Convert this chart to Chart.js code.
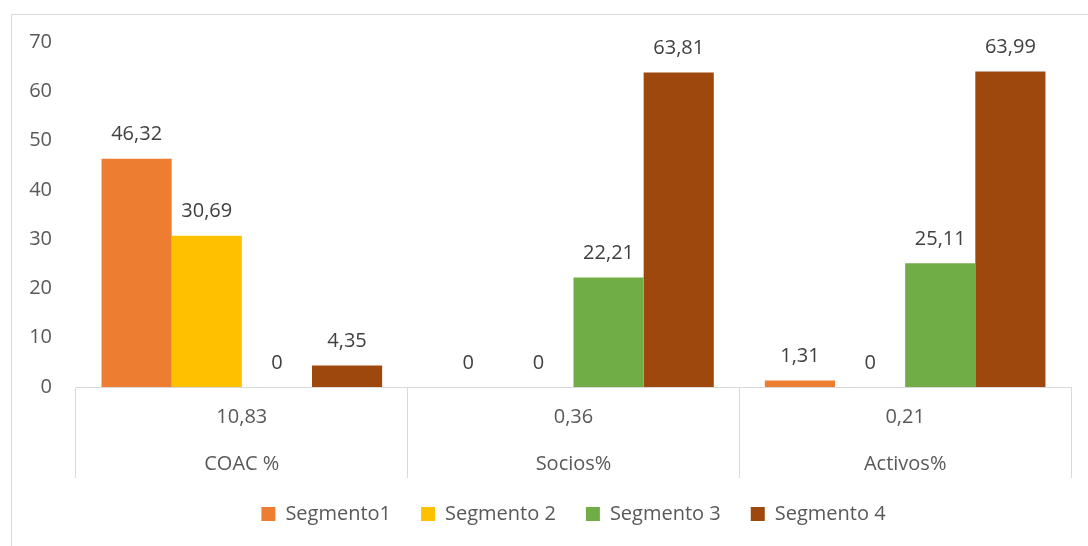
<!DOCTYPE html>
<html>
<head>
<meta charset="utf-8">
<script src="https://cdn.jsdelivr.net/npm/chart.js@4/dist/chart.umd.min.js"></script>
<style>
	body { margin: 0; background: #fff; overflow: hidden; }
	#frame { position: absolute; left: 11px; top: 14px; width: 1100px; height: 560px; border: 1px solid #d9d9d9; }
	#wrap { position: absolute; left: 0; top: 0; width: 1088px; height: 546px; }
</style>
</head>
<body>
<div id="frame"></div>
<div id="wrap"><canvas id="chart"></canvas></div>
<script>
// categories and their total row
var categories = ["COAC %", "Socios%", "Activos%"];
var totals     = [10.83, 0.36, 0.21];

// series
var segmento1 = [46.32, 0, 1.31];
var segmento2 = [30.69, 0, 0];
var segmento3 = [0, 22.21, 25.11];
var segmento4 = [4.35, 63.81, 63.99];

var yTicks = [0, 10, 20, 30, 40, 50, 60, 70];

var fmt = function (v) { return String(v).replace('.', ','); };

var font = "'Open Sans', 'DejaVu Sans', sans-serif";

// value labels above every bar
var valueLabels = {
	id: 'valueLabels',
	afterDatasetsDraw: function (chart)
	{
		var ctx = chart.ctx;
		ctx.save();
		ctx.font = '20px ' + font;
		ctx.fillStyle = '#404040';
		ctx.textAlign = 'center';
		ctx.textBaseline = 'middle';
		chart.data.datasets.forEach(function (ds, i)
		{
			chart.getDatasetMeta(i).data.forEach(function (bar, j)
			{
				ctx.fillText(fmt(ds.data[j]), bar.x, bar.y - 24);
			});
		});
		ctx.restore();
	}
};

new Chart(document.getElementById('chart'), {
	type: 'bar',
	data: {
		labels: categories.map(function (c, i) { return [fmt(totals[i]), c]; }),
		datasets: [
			{ label: 'Segmento1',  data: segmento1, backgroundColor: '#ED7D31' },
			{ label: 'Segmento 2', data: segmento2, backgroundColor: '#FFC000' },
			{ label: 'Segmento 3', data: segmento3, backgroundColor: '#70AD47' },
			{ label: 'Segmento 4', data: segmento4, backgroundColor: '#9E480E' }
		]
	},
	options: {
		responsive: true,
		maintainAspectRatio: false,
		animation: false,
		layout: { padding: { left: 0, right: 17, top: 42, bottom: 12 } },
		datasets: { bar: { barPercentage: 1, categoryPercentage: 0.846 } },
		plugins: {
			tooltip: { enabled: false },
			legend: {
				position: 'bottom',
				fullSize: false,
				labels: {
					boxWidth: 14,
					boxHeight: 14,
					padding: 30,
					color: '#595959',
					font: { family: font, size: 20 }
				}
			}
		},
		scales: {
			x: {
				afterFit: function (s) { s.height = 87; },
				border: { display: true, color: '#d9d9d9', width: 1 },
				grid: { display: true, drawOnChartArea: false, drawTicks: true, tickLength: 91, offset: true, color: '#d9d9d9' },
				ticks: {
					color: '#595959',
					padding: 6.5 - 91,
					maxRotation: 0,
					autoSkip: false,
					font: { family: font, size: 20, lineHeight: 2.35 }
				}
			},
			y: {
				min: 0,
				max: 70,
				afterFit: function (s) { s.width = 76; },
				afterBuildTicks: function (s) { s.ticks = yTicks.map(function (v) { return { value: v }; }); },
				border: { display: false },
				grid: { display: false, drawTicks: false },
				ticks: {
					color: '#595959',
					padding: 24,
					font: { family: font, size: 20 }
				}
			}
		}
	},
	plugins: [valueLabels]
});
</script>
</body>
</html>
